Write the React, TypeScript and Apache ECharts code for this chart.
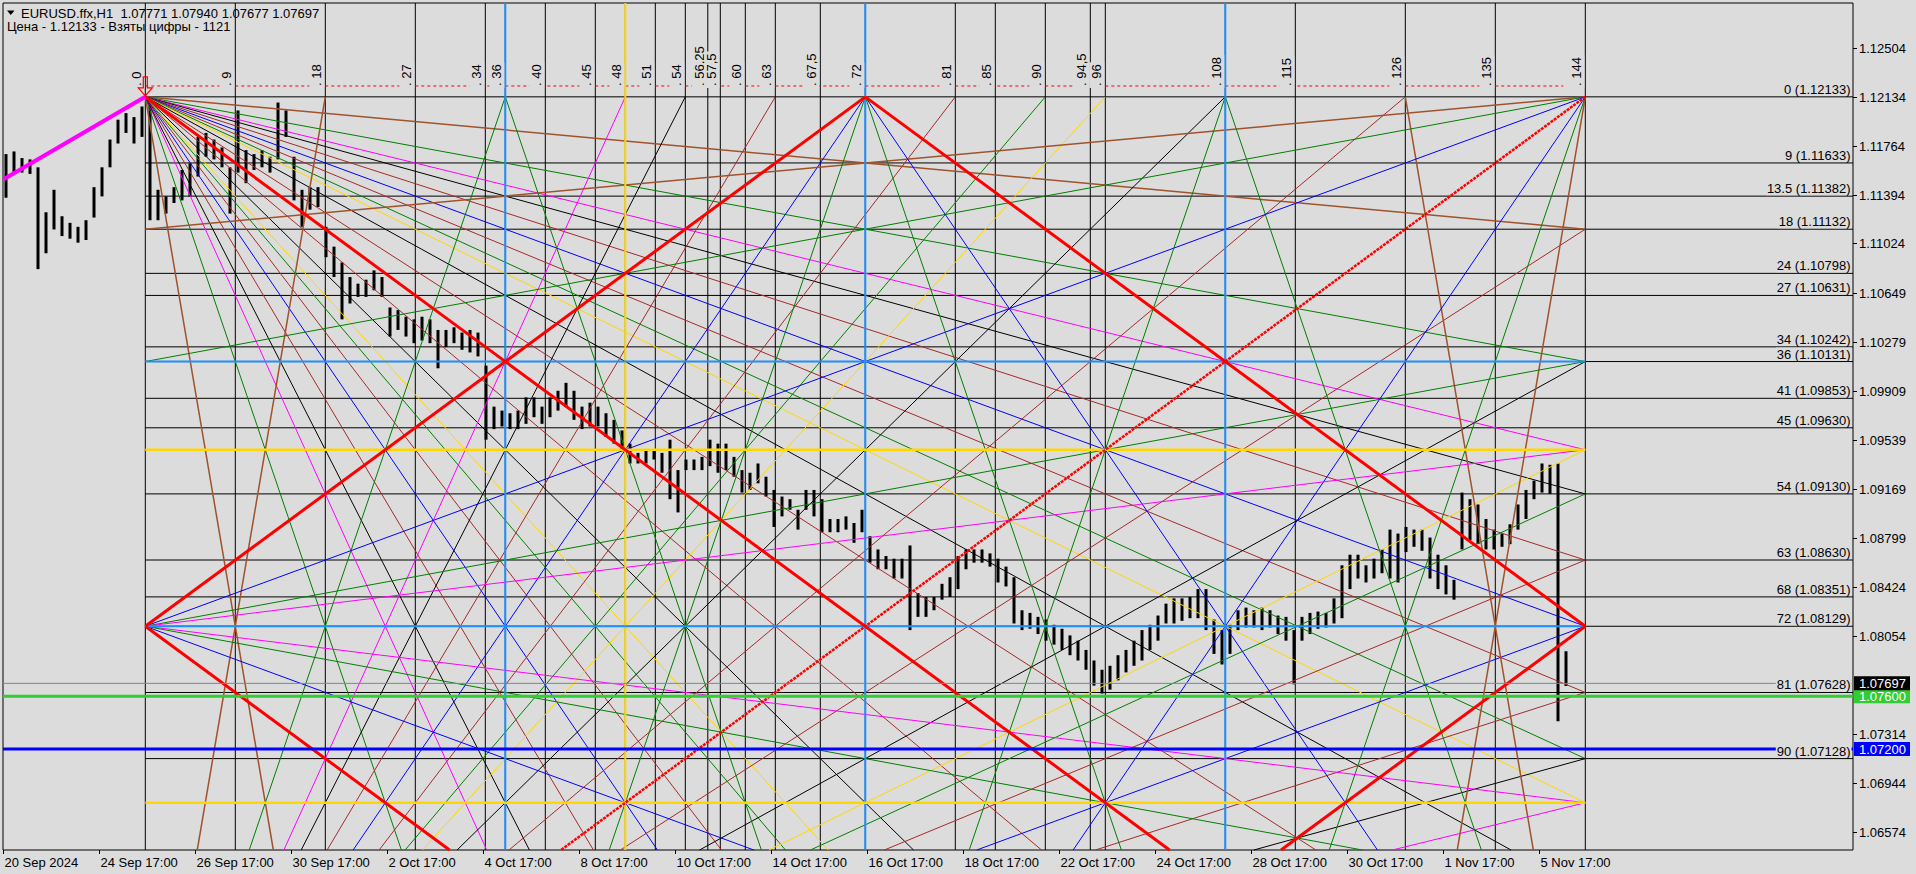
import React, { useEffect, useRef } from "react";
import * as echarts from "echarts";

const W = 1916;
const H = 874;
const BG = "#dcdcdc";
const FONT = '13px "Liberation Sans", Arial, sans-serif';

// ---- axis extents (x = hourly bar index, y = price) ----
const X_MIN = 0;
const X_MAX = 925;
const Y_MIN = 1.064368;
const Y_MAX = 1.128427;

const TITLE_LINE_1 = "EURUSD.ffx,H1  1.07771 1.07940 1.07677 1.07697";
const TITLE_LINE_2 = "Цена - 1.12133 - Взяты цифры - 1121";

const TIME_TICK_BARS = [0, 48, 96, 144, 192, 240, 288, 336, 384, 432, 480, 528, 576, 624, 672, 720, 768];
const TIME_TICK_LABELS = [
  "20 Sep 2024", "24 Sep 17:00", "26 Sep 17:00", "30 Sep 17:00", "2 Oct 17:00", "4 Oct 17:00",
  "8 Oct 17:00", "10 Oct 17:00", "14 Oct 17:00", "16 Oct 17:00", "18 Oct 17:00", "22 Oct 17:00",
  "24 Oct 17:00", "28 Oct 17:00", "30 Oct 17:00", "1 Nov 17:00", "5 Nov 17:00",
];

const PRICE_TICKS = [
  1.12504, 1.12134, 1.11764, 1.11394, 1.11024, 1.10649, 1.10279, 1.09909, 1.09539,
  1.09169, 1.08799, 1.08424, 1.08054, 1.07314, 1.06944, 1.06574,
];

// ---- price bars, 4-hour groups (high / low) ----
const BAR_FIRST_CENTER = 1.5;
const BAR_GROUP = 4;
const H4_HIGH = [
  1.1170, 1.1172, 1.1167, 1.1166, 1.1160, 1.1126, 1.1143, 1.1123, 1.1118, 1.1115,
  1.1120, 1.1145, 1.1160, 1.1181, 1.1196, 1.1201, 1.1198, 1.1206, 1.12133, 1.1143,
  1.1138, 1.1145, 1.1158, 1.1163, 1.1183, 1.1186, 1.1181, 1.1175, 1.1160, 1.1203,
  1.1173, 1.1170, 1.1173, 1.1168, 1.1209, 1.1203, 1.1168, 1.1143, 1.1145, 1.1145,
  1.1115, 1.1100, 1.1088, 1.1077, 1.1072, 1.1075, 1.1082, 1.1077, 1.1054, 1.1052,
  1.1047, 1.1045, 1.1047, 1.1045, 1.1037, 1.1037, 1.1039, 1.1035, 1.1037, 1.1035,
  1.1010, 1.0979, 1.0976, 1.0974, 1.0976, 1.0986, 1.0986, 1.0979, 1.0986, 1.0991,
  1.0997, 1.0991, 1.0979, 1.0982, 1.0979, 1.0974, 1.0969, 1.0961, 1.0951, 1.0944,
  1.0946, 1.0946, 1.0944, 1.0954, 1.0931, 1.0939, 1.0939, 1.0941, 1.0954, 1.0951,
  1.0951, 1.0941, 1.0931, 1.0929, 1.0936, 1.0926, 1.0916, 1.0911, 1.0909, 1.0901,
  1.0916, 1.0916, 1.0909, 1.0894, 1.0894, 1.0896, 1.0891, 1.0901, 1.0881, 1.0871,
  1.0866, 1.0864, 1.0864, 1.0874, 1.0838, 1.0835, 1.0835, 1.0845, 1.0850, 1.0866,
  1.0871, 1.0871, 1.0871, 1.0868, 1.0864, 1.0858, 1.0850, 1.0825, 1.0823, 1.0820,
  1.0818, 1.0814, 1.0811, 1.0806, 1.0802, 1.0795, 1.0787, 1.0780, 1.0783, 1.0791,
  1.0795, 1.0802, 1.0810, 1.0814, 1.0821, 1.0830, 1.0834, 1.0834, 1.0835, 1.0841,
  1.0841, 1.0818, 1.0810, 1.0814, 1.0825, 1.0827, 1.0825, 1.0827, 1.0825, 1.0821,
  1.0820, 1.0810, 1.0820, 1.0823, 1.0824, 1.0823, 1.0834, 1.0859, 1.0867, 1.0867,
  1.0859, 1.0864, 1.0871, 1.0886, 1.0883, 1.0888, 1.0886, 1.0886, 1.0880, 1.0867,
  1.0859, 1.0848, 1.0914, 1.0909, 1.0905, 1.0894, 1.0886, 1.0883, 1.0890, 1.0905,
  1.0916, 1.0923, 1.0936, 1.0935, 1.0936, 1.0794,
];
const H4_LOW = [
  1.1137, 1.1155, 1.1156, 1.1155, 1.1083, 1.1095, 1.1113, 1.1108, 1.1106, 1.1103,
  1.1105, 1.1122, 1.1138, 1.1160, 1.1178, 1.1186, 1.1178, 1.1183, 1.1120, 1.1120,
  1.1125, 1.1133, 1.1135, 1.1138, 1.1153, 1.1168, 1.1166, 1.1160, 1.1125, 1.1156,
  1.1148, 1.1158, 1.1160, 1.1156, 1.1166, 1.1183, 1.1135, 1.1115, 1.1128, 1.1130,
  1.1092, 1.1077, 1.1045, 1.1057, 1.1062, 1.1062, 1.1067, 1.1062, 1.1032, 1.1037,
  1.1032, 1.1027, 1.1029, 1.1027, 1.1008, 1.1024, 1.1027, 1.1022, 1.1020, 1.1017,
  1.0954, 1.0962, 1.0964, 1.0962, 1.0962, 1.0966, 1.0971, 1.0966, 1.0971, 1.0976,
  1.0979, 1.0969, 1.0962, 1.0964, 1.0964, 1.0956, 1.0951, 1.0946, 1.0936, 1.0936,
  1.0936, 1.0939, 1.0929, 1.0909, 1.0899, 1.0931, 1.0931, 1.0931, 1.0934, 1.0929,
  1.0931, 1.0926, 1.0914, 1.0916, 1.0921, 1.0911, 1.0888, 1.0896, 1.0901, 1.0886,
  1.0901, 1.0896, 1.0884, 1.0884, 1.0884, 1.0886, 1.0876, 1.0884, 1.0861, 1.0856,
  1.0856, 1.0849, 1.0849, 1.0810, 1.0820, 1.0820, 1.0825, 1.0833, 1.0835, 1.0841,
  1.0856, 1.0861, 1.0861, 1.0858, 1.0846, 1.0843, 1.0815, 1.0810, 1.0811, 1.0807,
  1.0802, 1.0799, 1.0795, 1.0791, 1.0787, 1.0780, 1.0768, 1.0762, 1.0765, 1.0772,
  1.0778, 1.0783, 1.0787, 1.0795, 1.0802, 1.0815, 1.0815, 1.0817, 1.0819, 1.0819,
  1.0810, 1.0792, 1.0784, 1.0792, 1.0810, 1.0812, 1.0812, 1.0810, 1.0812, 1.0807,
  1.0802, 1.0769, 1.0802, 1.0807, 1.0811, 1.0812, 1.0815, 1.0819, 1.0841, 1.0849,
  1.0846, 1.0849, 1.0853, 1.0849, 1.0846, 1.0869, 1.0873, 1.0870, 1.0849, 1.0841,
  1.0837, 1.0833, 1.0871, 1.0878, 1.0875, 1.0871, 1.0871, 1.0873, 1.0875, 1.0886,
  1.0894, 1.0909, 1.0914, 1.0913, 1.0741, 1.07677,
];

// ---- Gann square ----
const GANN_ORIGIN_BAR = 71.15;
const GANN_BARS_PER_UNIT = 5;
const GANN_PRICE0 = 1.12133;
const GANN_PRICE_STEP = 0.00055611;
const GANN_SIZE = 144;

const LEVELS = [0, 9, 13.5, 18, 24, 27, 34, 36, 41, 45, 54, 63, 68, 72, 81, 90];
const LEVEL_PRICES = [
  1.12133, 1.11633, 1.11382, 1.11132, 1.10798, 1.10631, 1.10242, 1.10131,
  1.09853, 1.0963, 1.0913, 1.0863, 1.08351, 1.08129, 1.07628, 1.07128,
];
const BLUE_LEVEL_UNITS = [36, 72];
const GOLD_LEVEL_UNITS = [48, 96];

const TIME_UNITS = [0, 9, 18, 27, 34, 36, 40, 45, 48, 51, 54, 56.25, 57.5, 60, 63, 67.5, 72, 81, 85, 90, 94.5, 96, 108, 115, 126, 135, 144];
const TIME_UNIT_LABELS = ["0", "9", "18", "27", "34", "36", "40", "45", "48", "51", "54", "56,25", "57,5", "60", "63", "67,5", "72", "81", "85", "90", "94,5", "96", "108", "115", "126", "135", "144"];
const BLUE_TIME_UNITS = [36, 72, 108];
const GOLD_TIME_UNITS = [48];

const RED_DASH_PRICE = 1.12215;
const RED_DASH_END_UNIT = 141.8;

const FAN_K = [18, 36, 48, 54, 63, 72, 81, 90, 96, 108, 126];
const SMALL_FAN_K = [18, 36, 72];
const LEFT_VERTEX_TARGETS = [36, 48, 96, 108];

const CURRENT_PRICE = 1.07697;
const GREEN_PRICE = 1.076;
const BLUE_PRICE = 1.072;
const MAGENTA_START = [0.3, 1.1151];

// ---- styles ----
const K_COLOR: Record<number, string> = {
  18: "#a0522d", 36: "#008000", 48: "#ff00ff", 54: "#000000", 63: "#a52a2a",
  72: "#0000ff", 81: "#a52a2a", 90: "#008000", 96: "#ffd700", 108: "#000000", 126: "#a52a2a",
};
const GRID_BLUE = "#1e90ff";
const GOLD = "#ffd700";

type Seg = { a: number[]; b: number[]; color: string; width: number; dash?: number[] };

function gx(t: number) {
  return GANN_ORIGIN_BAR + GANN_BARS_PER_UNIT * t;
}
function gy(p: number) {
  return GANN_PRICE0 - GANN_PRICE_STEP * p;
}
function gp(t: number, p: number) {
  return [gx(t), gy(p)];
}

function buildSegments(): Seg[] {
  const s: Seg[] = [];
  const add = (a: number[], b: number[], color: string, width = 1, dash?: number[]) =>
    s.push({ a, b, color, width, dash });
  const N = GANN_SIZE;
  const wk = (k: number) => (k === 18 ? 1.5 : 1);

  TIME_UNITS.forEach((u) => add([gx(u), Y_MAX], [gx(u), Y_MIN], "#000", 1));
  LEVEL_PRICES.forEach((p) => add([gx(0), p], [X_MAX, p], "#000", 1));
  add([gx(0), RED_DASH_PRICE], [gx(RED_DASH_END_UNIT), RED_DASH_PRICE], "#ff0000", 1, [3, 3]);

  // corner (0,0) fan
  FAN_K.forEach((k) => {
    add(gp(0, 0), gp(N, k), K_COLOR[k], wk(k));
    add(gp(0, 0), gp(k, N), K_COLOR[k], wk(k));
  });
  // corner (0,144) fan
  FAN_K.forEach((k) => {
    add(gp(0, N), gp(k, 0), K_COLOR[k], wk(k));
    add(gp(0, N), gp(N, N - k), K_COLOR[k], wk(k));
  });
  // corner (144,0) and (144,144) fans
  SMALL_FAN_K.forEach((k) => {
    add(gp(N, 0), gp(0, k), K_COLOR[k], wk(k));
    add(gp(N, 0), gp(N - k, N), K_COLOR[k], wk(k));
    add(gp(N, N), gp(N - k, 0), K_COLOR[k], wk(k));
    add(gp(N, N), gp(0, N - k), K_COLOR[k], wk(k));
  });
  // left vertex fan
  LEFT_VERTEX_TARGETS.forEach((k) => {
    const off = Math.abs(k - N / 2);
    add(gp(0, N / 2), gp(N, k), off === 36 ? K_COLOR[36] : K_COLOR[48], 1);
  });
  // steep greens between top and bottom mid points
  add(gp(N / 2, N), gp(N / 4, 0), K_COLOR[36]);
  add(gp(N / 2, N), gp((3 * N) / 4, 0), K_COLOR[36]);
  add(gp(N / 2, 0), gp(N / 4, N), K_COLOR[36]);
  add(gp(N / 2, 0), gp((3 * N) / 4, N), K_COLOR[36]);

  // colored grid overlays
  BLUE_TIME_UNITS.forEach((u) => add([gx(u), Y_MAX], [gx(u), Y_MIN], GRID_BLUE, 2));
  GOLD_TIME_UNITS.forEach((u) => add([gx(u), Y_MAX], [gx(u), Y_MIN], GOLD, 2));
  BLUE_LEVEL_UNITS.forEach((l) => add(gp(0, l), gp(N, l), GRID_BLUE, 2));
  GOLD_LEVEL_UNITS.forEach((l) => add(gp(0, l), gp(N, l), GOLD, 2.5));

  // red diagonals & diamond
  add(gp(N, 0), gp(0, N), "#ff0000", 2.5, [3, 1]);
  add(gp(0, 0), gp(N, N), "#ff0000", 3);
  add(gp(0, N / 2), gp(N / 2, 0), "#ff0000", 3);
  add(gp(N / 2, 0), gp(N, N / 2), "#ff0000", 3);
  add(gp(N, N / 2), gp(N / 2, N), "#ff0000", 3);
  add(gp(N / 2, N), gp(0, N / 2), "#ff0000", 3);

  add(MAGENTA_START, gp(0, 0), "#ff00ff", 4);

  add([X_MIN, CURRENT_PRICE], [X_MAX, CURRENT_PRICE], "#778899", 1);
  add([X_MIN, BLUE_PRICE], [X_MAX, BLUE_PRICE], "#0000ff", 3);
  add([X_MIN, GREEN_PRICE], [X_MAX, GREEN_PRICE], "#32cd32", 3);
  return s;
}

function clipSeg(x1: number, y1: number, x2: number, y2: number, r: any) {
  let t0 = 0;
  let t1 = 1;
  const dx = x2 - x1;
  const dy = y2 - y1;
  const p = [-dx, dx, -dy, dy];
  const q = [x1 - r.x, r.x + r.width - x1, y1 - r.y, r.y + r.height - y1];
  for (let i = 0; i < 4; i++) {
    if (p[i] === 0) {
      if (q[i] < 0) return null;
    } else {
      const t = q[i] / p[i];
      if (p[i] < 0) {
        if (t > t1) return null;
        if (t > t0) t0 = t;
      } else {
        if (t < t0) return null;
        if (t < t1) t1 = t;
      }
    }
  }
  return [x1 + t0 * dx, y1 + t0 * dy, x1 + t1 * dx, y1 + t1 * dy];
}

export default function App() {
  const ref = useRef<HTMLDivElement>(null);

  useEffect(() => {
    const el = ref.current;
    if (!el) return;
    const chart = echarts.init(el, null, { renderer: "svg" });
    const segs = buildSegments();

    const barData = H4_HIGH.map((h, i) => [BAR_FIRST_CENTER + BAR_GROUP * i, h, H4_LOW[i]]);
    const segData = segs.map((s, i) => [s.a[0], s.a[1], s.b[0], s.b[1], i]);

    const hiddenAxis = {
      axisLine: { show: false },
      axisTick: { show: false },
      axisLabel: { show: false },
      splitLine: { show: false },
    };

    chart.setOption({
      animation: false,
      backgroundColor: BG,
      grid: {
        left: 3, top: 3, width: 1850, height: 847,
        show: true, borderColor: "#000", borderWidth: 1, backgroundColor: BG,
      },
      xAxis: { type: "value", min: X_MIN, max: X_MAX, ...hiddenAxis },
      yAxis: { type: "value", position: "right", min: Y_MIN, max: Y_MAX, ...hiddenAxis },
      series: [
        {
          type: "custom",
          silent: true,
          z: 2,
          data: barData,
          renderItem: (params: any, api: any) => {
            const x = api.value(0);
            const a = api.coord([x, api.value(1)]);
            const b = api.coord([x, api.value(2)]);
            return {
              type: "line",
              shape: { x1: a[0], y1: a[1], x2: b[0], y2: b[1] },
              style: { stroke: "#000", lineWidth: 3 },
            };
          },
        },
        {
          type: "custom",
          silent: true,
          z: 3,
          data: segData,
          renderItem: (params: any, api: any) => {
            const s = segs[api.value(4)];
            const a = api.coord([api.value(0), api.value(1)]);
            const b = api.coord([api.value(2), api.value(3)]);
            const c = clipSeg(a[0], a[1], b[0], b[1], params.coordSys);
            if (!c) return { type: "group", children: [] };
            return {
              type: "line",
              shape: { x1: c[0], y1: c[1], x2: c[2], y2: c[3] },
              style: { stroke: s.color, lineWidth: s.width, lineDash: s.dash || null },
            };
          },
        },
      ],
    });

    const toPx = (x: number, y: number) =>
      chart.convertToPixel({ xAxisIndex: 0, yAxisIndex: 0 }, [x, y]) as number[];
    const gridBottom = toPx(X_MIN, Y_MIN)[1];
    const gridRight = toPx(X_MAX, Y_MIN)[0];

    const g: any[] = [];
    const text = (x: number, y: number, t: string, extra: any = {}, rotation = 0) =>
      g.push({
        type: "text", x, y, rotation, z: 100, silent: true,
        style: { text: t, font: FONT, fill: "#000", align: "left", verticalAlign: "middle", ...extra },
      });
    const seg = (x1: number, y1: number, x2: number, y2: number, color = "#000", w = 1) =>
      g.push({ type: "line", z: 100, silent: true, shape: { x1, y1, x2, y2 }, style: { stroke: color, lineWidth: w } });

    // title
    g.push({ type: "polygon", z: 100, silent: true, shape: { points: [[7, 10.5], [14.5, 10.5], [10.75, 15]] }, style: { fill: "#000" } });
    text(21, 13, TITLE_LINE_1);
    text(7, 26, TITLE_LINE_2);

    // price axis
    PRICE_TICKS.forEach((p) => {
      const y = Math.round(toPx(X_MAX, p)[1]) + 0.5;
      seg(gridRight, y, gridRight + 4, y);
      text(gridRight + 6, y, p.toFixed(5));
    });
    // time axis
    TIME_TICK_BARS.forEach((b, i) => {
      const x = Math.round(toPx(b, Y_MIN)[0]) + 0.5;
      seg(x, gridBottom, x, gridBottom + 4);
      text(x + 1, gridBottom + 12, TIME_TICK_LABELS[i]);
    });

    // gann level labels
    LEVELS.forEach((l, i) => {
      const y = toPx(X_MAX, LEVEL_PRICES[i])[1];
      text(gridRight - 1.5, y - 1, `${l} (${LEVEL_PRICES[i].toFixed(5)})`, {
        align: "right", verticalAlign: "bottom", backgroundColor: BG, padding: [0, 1, 0, 1],
      });
    });

    // gann time labels (rotated)
    const dashY = toPx(X_MIN, RED_DASH_PRICE)[1];
    TIME_UNITS.forEach((u, i) => {
      const x = toPx(gx(u), Y_MIN)[0];
      text(x - 1, dashY + 2, ". " + TIME_UNIT_LABELS[i], {
        align: "left", verticalAlign: "bottom", backgroundColor: BG, padding: [1, 2, 1, 2],
      }, Math.PI / 2);
    });

    // price boxes on the axis
    const box = (price: number, fill: string) => {
      const y = toPx(X_MAX, price)[1];
      g.push({ type: "rect", z: 101, silent: true, shape: { x: gridRight + 1, y: y - 7, width: 56, height: 14 }, style: { fill } });
      g.push({
        type: "text", x: gridRight + 6, y, z: 102, silent: true,
        style: { text: price.toFixed(5), font: FONT, fill: "#fff", align: "left", verticalAlign: "middle" },
      });
    };
    box(BLUE_PRICE, "#0000ff");
    box(GREEN_PRICE, "#32cd32");
    box(CURRENT_PRICE, "#000000");

    // red arrow at gann origin
    const o = toPx(gx(0), gy(0));
    g.push({
      type: "polygon", z: 100, silent: true,
      shape: {
        points: [
          [o[0] - 2, o[1] - 20], [o[0] + 2, o[1] - 20], [o[0] + 2, o[1] - 9], [o[0] + 7, o[1] - 9],
          [o[0], o[1] - 1], [o[0] - 7, o[1] - 9], [o[0] - 2, o[1] - 9],
        ],
      },
      style: { fill: "none", stroke: "#ff0000", lineWidth: 1.2 },
    });

    chart.setOption({ graphic: g });

    return () => chart.dispose();
  }, []);

  return (
    <div
      ref={ref}
      style={{ position: "fixed", left: 0, top: 0, width: W, height: H, background: BG }}
    />
  );
}
